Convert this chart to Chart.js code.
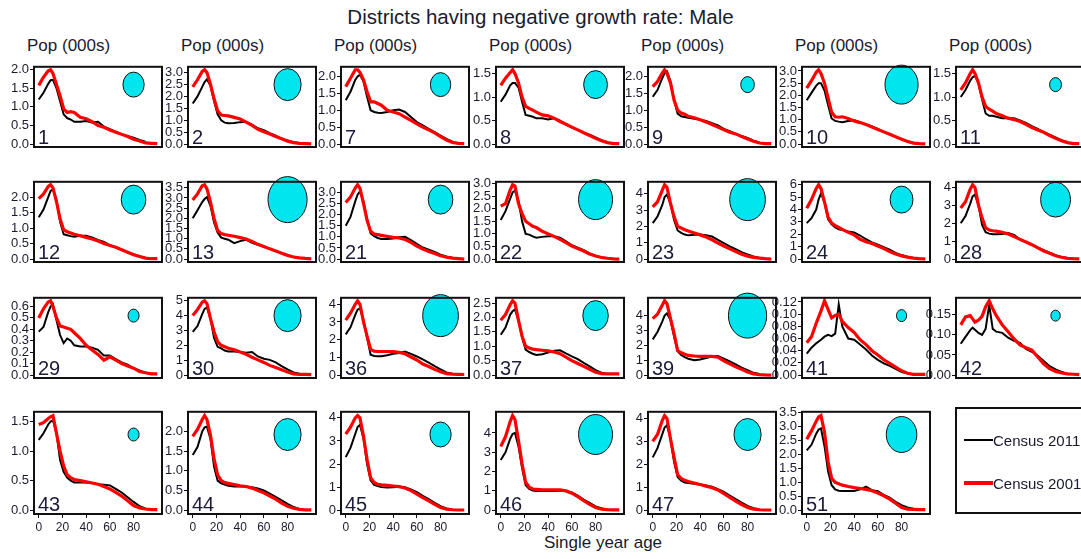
<!DOCTYPE html>
<html>
<head>
<meta charset="utf-8">
<script src="https://cdn.jsdelivr.net/npm/chart.js@4.4.1/dist/chart.umd.min.js"></script>
<style>
  html, body { margin: 0; padding: 0; background: #fff; width: 1081px; height: 559px; overflow: hidden;
    font-family: "Liberation Sans", Arial, sans-serif; color: #1a1a2e; }
  .txt { position: absolute; white-space: nowrap; line-height: 1; }
  canvas.panel { position: absolute; }
  #key { position: absolute; left: 955px; top: 407px; width: 140px; height: 107px; box-sizing: border-box;
    border: 2px solid #111; background: transparent; }
  #key .ln { position: absolute; left: 7px; width: 29px; }
  #key .lab { position: absolute; left: 36px; font-size: 15px; line-height: 1; white-space: nowrap; color: #1a1a2e; }
</style>
</head>
<body>
<div class="txt" style="left:0;width:1081px;text-align:center;top:7px;font-size:20.5px;">Districts having negative growth rate: Male</div>
<div class="txt" style="left:448px;width:310px;text-align:center;top:534px;font-size:17px;">Single year age</div>
<div id="heads"></div>
<div id="panels"></div>
<div id="key">
  <div class="ln" style="top:30px;height:2px;background:#000;"></div>
  <div class="lab" style="top:24px;">Census 2011</div>
  <div class="ln" style="top:72px;height:4px;background:#f00;"></div>
  <div class="lab" style="top:67px;">Census 2001</div>
</div>
<script>
// Single-year age grid shared by every district panel (population in thousands)
const ages = [0,4,8,10,12,15,18,21,24,27,30,35,40,45,50,55,60,65,70,75,80,85,90,95,100];
const xTicks = [0,20,40,60,80];

// District codes in panel order (row by row)
const districts = [1,2,7,8,9,10,11, 12,13,21,22,23,24,28, 29,30,36,37,39,41,42, 43,44,45,46,47,51];
// y-axis tick spacing and highest labelled tick per district
const tickStep = [0.5,0.5,0.5,0.5,0.5,0.5,0.5, 0.5,0.5,0.5,0.5,1,1,1, 0.1,1,1,0.5,1,0.02,0.05, 0.5,0.5,1,1,1,0.5];
const tickTop  = [2.0,3.0,2.0,1.5,2.0,3.0,1.5, 2.0,3.5,3.0,3.0,4,6,4, 0.6,5,4,2.5,4,0.12,0.15, 1.5,2.0,4,4,4,3.5];
// size of the marker circle (decline magnitude) per district
const bubbleSize = [12.5,16,12,14,8,19.5,7, 14.5,23,14.5,20,21,13.5,17.5, 6.5,16,21,15,22.5,6,5.5, 6.5,16,12.5,20,16,18];

// Census 2011, males
const m2011_1  = [1.2,1.38,1.62,1.72,1.73,1.5,1.15,0.8,0.7,0.66,0.6,0.6,0.62,0.58,0.6,0.47,0.4,0.33,0.26,0.22,0.17,0.11,0.06,null,null];
const m2011_2  = [1.7,2.0,2.4,2.6,2.72,2.45,1.8,1.25,1.0,0.9,0.87,0.88,0.92,0.94,0.82,0.66,0.58,0.46,0.35,0.22,0.15,0.08,0.04,null,null];
const m2011_7  = [1.3,1.55,1.9,2.0,2.05,1.85,1.4,1.0,0.95,0.93,0.92,0.95,1.0,1.02,0.95,0.8,0.65,0.55,0.45,0.35,0.25,0.15,0.07,null,null];
const m2011_8  = [0.9,1.05,1.25,1.3,1.3,1.2,0.9,0.62,0.6,0.58,0.55,0.55,0.52,0.55,0.5,0.42,0.35,0.3,0.24,0.2,0.14,0.08,0.04,null,null];
const m2011_9  = [1.4,1.6,1.95,2.1,2.15,1.85,1.3,0.9,0.82,0.8,0.78,0.75,0.72,0.68,0.62,0.55,0.45,0.38,0.3,0.24,0.18,0.1,0.05,null,null];
const m2011_10 = [1.8,2.1,2.4,2.5,2.5,2.2,1.6,1.05,0.95,0.92,0.9,0.95,0.98,0.9,0.8,0.72,0.62,0.5,0.4,0.3,0.2,0.12,0.05,null,null];
const m2011_11 = [1.0,1.15,1.35,1.42,1.45,1.3,0.95,0.65,0.6,0.6,0.58,0.55,0.55,0.55,0.5,0.45,0.38,0.32,0.25,0.2,0.14,0.08,0.04,null,null];
const m2011_12 = [1.35,1.6,2.0,2.2,2.25,1.9,1.2,0.8,0.77,0.74,0.72,0.75,0.75,0.7,0.62,0.55,0.45,0.38,0.3,0.22,0.16,0.09,0.04,null,null];
const m2011_13 = [2.0,2.4,2.8,2.95,3.05,2.6,1.8,1.3,1.05,1.0,0.95,0.78,0.88,0.95,0.8,0.7,0.6,0.5,0.38,0.28,0.18,0.1,0.05,null,null];
const m2011_21 = [1.5,1.9,2.6,2.9,3.05,2.6,1.8,1.15,1.03,0.95,0.9,0.9,0.93,0.98,1.0,0.85,0.68,0.52,0.42,0.32,0.2,0.12,0.06,null,null];
const m2011_22 = [1.55,1.9,2.4,2.65,2.72,2.3,1.5,1.0,0.97,0.9,0.85,0.88,0.9,0.9,0.85,0.7,0.55,0.45,0.35,0.22,0.12,0.07,0.03,null,null];
const m2011_23 = [2.2,2.6,3.3,3.8,3.95,3.4,2.4,1.75,1.6,1.5,1.45,1.48,1.5,1.46,1.38,1.18,0.98,0.78,0.6,0.42,0.28,0.16,0.08,null,null];
const m2011_24 = [2.9,3.3,4.0,4.8,5.3,4.6,3.2,2.8,2.55,2.4,2.35,2.22,2.15,1.9,1.6,1.35,1.15,0.95,0.75,0.5,0.32,0.18,0.09,null,null];
const m2011_28 = [2.0,2.4,3.1,3.5,3.6,3.0,1.9,1.5,1.42,1.39,1.38,1.4,1.45,1.35,1.1,0.95,0.82,0.65,0.5,0.35,0.22,0.12,0.06,null,null];
const m2011_29 = [0.38,0.42,0.55,0.6,0.62,0.48,0.35,0.28,0.32,0.3,0.26,0.25,0.25,0.24,0.22,0.17,0.17,0.14,0.11,0.09,0.06,0.04,0.02,null,null];
const m2011_30 = [2.9,3.3,4.1,4.45,4.55,3.8,2.5,1.9,1.8,1.65,1.58,1.58,1.55,1.5,1.55,1.25,1.1,1.02,0.85,0.6,0.38,0.18,0.08,null,null];
const m2011_36 = [2.3,2.7,3.4,3.7,3.78,3.1,2.1,1.15,1.08,1.06,1.06,1.12,1.2,1.25,1.33,1.2,1.05,0.88,0.7,0.5,0.32,0.15,0.07,null,null];
const m2011_37 = [1.4,1.65,2.1,2.22,2.28,1.9,1.3,0.88,0.8,0.74,0.7,0.72,0.78,0.84,0.86,0.75,0.65,0.55,0.42,0.3,0.17,0.08,0.04,null,null];
const m2011_39 = [2.4,2.9,3.6,4.0,4.15,3.7,2.6,1.6,1.35,1.2,1.1,1.0,1.05,1.15,1.25,1.28,1.1,0.92,0.72,0.5,0.32,0.15,0.07,null,null];
const m2011_41 = [0.035,0.045,0.052,0.055,0.058,0.063,0.066,0.064,0.068,0.116,0.08,0.06,0.058,0.05,0.042,0.032,0.025,0.019,0.015,0.01,0.005,0.003,0.001,null,null];
const m2011_42 = [0.078,0.095,0.112,0.118,0.113,0.105,0.1,0.115,0.175,0.115,0.108,0.105,0.093,0.085,0.08,0.065,0.058,0.048,0.035,0.022,0.014,0.008,0.003,null,null];
const m2011_43 = [1.19,1.3,1.45,1.5,1.52,1.3,0.85,0.65,0.55,0.5,0.47,0.47,0.47,0.46,0.44,0.43,0.42,0.36,0.3,0.22,0.14,0.07,0.03,null,null];
const m2011_44 = [1.4,1.6,2.0,2.1,2.12,1.8,1.1,0.75,0.68,0.65,0.62,0.6,0.6,0.6,0.58,0.55,0.5,0.42,0.34,0.25,0.16,0.08,0.03,null,null];
const m2011_45 = [2.3,2.7,3.3,3.6,3.7,3.1,2.0,1.3,1.1,1.05,1.0,0.98,1.0,1.02,1.0,0.9,0.78,0.62,0.48,0.32,0.18,0.08,0.03,null,null];
const m2011_46 = [2.6,3.0,3.7,3.95,4.0,3.3,2.2,1.3,1.1,1.02,1.0,1.0,1.0,1.0,1.02,1.0,0.92,0.75,0.55,0.38,0.2,0.1,0.04,null,null];
const m2011_47 = [2.3,2.7,3.3,3.6,3.7,3.1,2.1,1.45,1.28,1.2,1.18,1.15,1.12,1.08,1.02,0.92,0.8,0.64,0.48,0.33,0.19,0.09,0.04,null,null];
const m2011_51 = [2.15,2.35,2.75,2.9,2.94,2.3,1.4,0.9,0.75,0.7,0.69,0.69,0.69,0.75,0.85,0.72,0.68,0.55,0.45,0.3,0.18,0.1,0.05,null,null];

// Census 2001, males
const m2001_1  = [1.58,1.8,1.97,2.0,1.9,1.6,1.3,0.95,0.85,0.87,0.85,0.72,0.68,0.6,0.5,0.45,0.38,0.32,0.26,0.2,0.13,0.08,0.03,0.02,0.01];
const m2001_2  = [2.4,2.7,3.05,3.12,3.0,2.5,1.9,1.4,1.22,1.2,1.18,1.12,1.05,0.92,0.78,0.62,0.52,0.42,0.32,0.22,0.12,0.06,0.03,0.02,0.01];
const m2001_7  = [1.7,1.95,2.2,2.2,2.12,1.9,1.55,1.25,1.25,1.2,1.15,1.0,0.95,0.9,0.8,0.7,0.6,0.5,0.42,0.33,0.22,0.12,0.05,0.02,0.01];
const m2001_8  = [1.25,1.4,1.52,1.58,1.5,1.3,1.0,0.8,0.76,0.72,0.68,0.62,0.6,0.55,0.48,0.42,0.36,0.3,0.24,0.18,0.12,0.07,0.03,0.01,0.01];
const m2001_9  = [1.7,1.85,2.1,2.2,2.1,1.8,1.3,1.0,0.92,0.88,0.82,0.78,0.72,0.65,0.58,0.5,0.42,0.35,0.3,0.22,0.15,0.08,0.03,0.01,0.01];
const m2001_10 = [2.3,2.6,2.95,3.05,2.9,2.5,1.9,1.3,1.12,1.1,1.12,1.05,0.95,0.88,0.8,0.7,0.6,0.5,0.4,0.3,0.2,0.1,0.04,0.02,0.01];
const m2001_11 = [1.15,1.3,1.5,1.58,1.5,1.3,1.0,0.8,0.74,0.7,0.65,0.6,0.55,0.52,0.48,0.42,0.35,0.3,0.25,0.18,0.12,0.07,0.03,0.01,0.01];
const m2001_12 = [1.95,2.1,2.35,2.4,2.3,1.85,1.3,0.95,0.88,0.84,0.8,0.75,0.7,0.65,0.58,0.5,0.44,0.38,0.3,0.22,0.14,0.08,0.03,0.01,0.01];
const m2001_13 = [2.9,3.2,3.6,3.65,3.45,2.8,2.0,1.4,1.25,1.2,1.17,1.12,1.05,0.98,0.86,0.72,0.62,0.5,0.4,0.28,0.18,0.1,0.06,0.03,0.01];
const m2001_21 = [2.55,2.8,3.2,3.35,3.2,2.5,1.75,1.25,1.13,1.1,1.07,1.02,0.98,0.95,0.88,0.75,0.58,0.45,0.34,0.25,0.15,0.08,0.04,0.02,0.0];
const m2001_22 = [2.1,2.2,2.75,2.95,2.9,2.2,1.8,1.5,1.4,1.3,1.25,1.1,1.0,0.9,0.78,0.65,0.52,0.42,0.32,0.2,0.12,0.06,0.03,0.01,0.0];
const m2001_23 = [3.2,3.5,4.2,4.55,4.4,3.4,2.6,2.0,1.9,1.8,1.72,1.6,1.48,1.35,1.18,0.98,0.8,0.62,0.46,0.3,0.18,0.1,0.05,0.02,0.0];
const m2001_24 = [4.1,4.8,5.7,6.0,5.7,4.6,3.4,2.9,2.7,2.55,2.4,2.15,1.95,1.6,1.4,1.25,1.05,0.85,0.6,0.4,0.25,0.15,0.07,0.03,0.01];
const m2001_28 = [2.85,3.2,3.9,4.15,4.0,3.0,2.3,1.75,1.62,1.58,1.56,1.5,1.4,1.25,1.1,0.95,0.8,0.62,0.45,0.32,0.18,0.1,0.04,0.02,0.01];
const m2001_29 = [0.5,0.58,0.64,0.65,0.6,0.5,0.43,0.42,0.41,0.4,0.37,0.32,0.26,0.22,0.18,0.13,0.16,0.13,0.1,0.08,0.06,0.03,0.02,0.01,0.01];
const m2001_30 = [4.0,4.4,4.9,5.0,4.8,3.8,2.9,2.25,2.0,1.9,1.8,1.7,1.55,1.4,1.2,1.02,0.85,0.65,0.5,0.35,0.2,0.08,0.05,0.04,0.03];
const m2001_36 = [3.1,3.5,4.0,4.2,4.0,3.0,2.2,1.45,1.35,1.33,1.33,1.33,1.32,1.28,1.2,1.02,0.85,0.62,0.48,0.32,0.18,0.08,0.05,0.04,0.03];
const m2001_37 = [1.9,2.1,2.45,2.58,2.5,1.9,1.35,1.0,0.94,0.9,0.88,0.86,0.84,0.8,0.74,0.62,0.5,0.4,0.3,0.2,0.1,0.05,0.04,0.04,0.04];
const m2001_39 = [3.8,4.1,4.7,5.0,4.8,3.8,2.8,1.65,1.5,1.4,1.32,1.28,1.25,1.25,1.25,1.2,0.95,0.75,0.55,0.38,0.2,0.08,0.03,0.01,0.0];
const m2001_41 = [0.053,0.063,0.085,0.095,0.105,0.122,0.108,0.094,0.098,0.1,0.088,0.078,0.07,0.058,0.05,0.04,0.033,0.025,0.019,0.013,0.007,0.003,0.001,0.001,0.001];
const m2001_42 = [0.125,0.145,0.148,0.14,0.132,0.137,0.146,0.17,0.185,0.165,0.148,0.125,0.108,0.09,0.075,0.068,0.062,0.045,0.028,0.016,0.009,0.005,0.003,0.002,0.001];
const m2001_43 = [1.45,1.48,1.55,1.58,1.6,1.3,1.0,0.75,0.6,0.55,0.52,0.5,0.48,0.46,0.44,0.4,0.36,0.3,0.24,0.16,0.08,0.04,0.02,0.01,0.01];
const m2001_44 = [1.87,2.05,2.3,2.4,2.3,1.9,1.3,0.9,0.75,0.7,0.68,0.65,0.62,0.6,0.56,0.5,0.44,0.36,0.28,0.18,0.1,0.05,0.02,0.01,0.01];
const m2001_45 = [3.3,3.6,4.0,4.1,4.0,3.2,2.2,1.4,1.2,1.12,1.1,1.08,1.05,1.02,0.96,0.85,0.7,0.55,0.4,0.25,0.12,0.05,0.02,0.01,0.01];
const m2001_46 = [3.3,3.8,4.6,4.9,4.7,3.6,2.4,1.45,1.2,1.1,1.08,1.05,1.05,1.05,1.05,1.0,0.88,0.7,0.5,0.3,0.14,0.05,0.03,0.02,0.02];
const m2001_47 = [3.0,3.3,3.9,4.12,4.0,3.1,2.3,1.55,1.38,1.3,1.25,1.18,1.12,1.05,0.98,0.88,0.72,0.56,0.4,0.25,0.12,0.05,0.02,0.01,0.01];
const m2001_51 = [2.55,2.85,3.2,3.35,3.4,2.8,1.75,1.15,1.0,0.95,0.9,0.85,0.81,0.78,0.75,0.7,0.62,0.52,0.4,0.25,0.1,0.04,0.03,0.02,0.02];

const census2011 = [m2011_1,m2011_2,m2011_7,m2011_8,m2011_9,m2011_10,m2011_11,
  m2011_12,m2011_13,m2011_21,m2011_22,m2011_23,m2011_24,m2011_28,
  m2011_29,m2011_30,m2011_36,m2011_37,m2011_39,m2011_41,m2011_42,
  m2011_43,m2011_44,m2011_45,m2011_46,m2011_47,m2011_51];
const census2001 = [m2001_1,m2001_2,m2001_7,m2001_8,m2001_9,m2001_10,m2001_11,
  m2001_12,m2001_13,m2001_21,m2001_22,m2001_23,m2001_24,m2001_28,
  m2001_29,m2001_30,m2001_36,m2001_37,m2001_39,m2001_41,m2001_42,
  m2001_43,m2001_44,m2001_45,m2001_46,m2001_47,m2001_51];

// ---- panel grid geometry ----
const colLeft = [34, 188, 341, 496, 648, 802, 956];
const rowTop  = [62, 177, 293, 407];
const BOX_W = 128, BOX_H = 107, AXIS_W = 40, PAD = 4, XAXIS_H = 22;
const FONT = '"Liberation Sans", Arial, sans-serif';
const INK = '#1a1a2e';

// column headings
const heads = document.getElementById('heads');
colLeft.forEach(x => {
  const d = document.createElement('div');
  d.className = 'txt';
  d.style.cssText = `left:${x - 7}px;top:37px;font-size:17px;`;
  d.textContent = 'Pop (000s)';
  heads.appendChild(d);
});

// frame, district number and decline circle drawn on top of each panel
const panelDecor = {
  id: 'panelDecor',
  afterDatasetsDraw(chart, args, opts) {
    const { ctx, chartArea: a, scales } = chart;
    ctx.save();
    const cx = scales.x.getPixelForValue(opts.circleAge);
    const cy = scales.y.getPixelForValue(opts.circleLevel);
    ctx.beginPath();
    ctx.ellipse(cx, cy, opts.radius * 0.85, opts.radius, 0, 0, Math.PI * 2);
    ctx.fillStyle = '#00E5EE';
    ctx.fill();
    ctx.lineWidth = 1;
    ctx.strokeStyle = '#111';
    ctx.stroke();
    ctx.font = '20px ' + FONT;
    ctx.fillStyle = '#1b1b3a';
    ctx.textBaseline = 'alphabetic';
    ctx.textAlign = 'left';
    ctx.fillText(opts.label, a.left + 4, a.bottom - 3);
    ctx.lineWidth = 2;
    ctx.strokeStyle = '#111';
    ctx.strokeRect(a.left, a.top, a.right - a.left, a.bottom - a.top);
    ctx.restore();
  }
};

const host = document.getElementById('panels');
districts.forEach((code, i) => {
  const r = Math.floor(i / 7), c = i % 7;
  const bottomRow = (r === 3);
  const cv = document.createElement('canvas');
  cv.className = 'panel';
  const w = AXIS_W + BOX_W + PAD;
  const h = PAD + BOX_H + (bottomRow ? XAXIS_H : PAD);
  cv.width = w; cv.height = h;
  cv.style.left = (colLeft[c] - AXIS_W) + 'px';
  cv.style.top = (rowTop[r] - PAD) + 'px';
  host.appendChild(cv);

  const a11 = census2011[i], a01 = census2001[i];
  const peak = Math.max(...a11.filter(v => v !== null), ...a01);
  const step = tickStep[i], top = tickTop[i];
  const dec = step >= 1 ? 0 : (Math.abs(step * 10 - Math.round(step * 10)) < 1e-9 ? 1 : 2);

  new Chart(cv, {
    type: 'line',
    data: {
      labels: ages,
      datasets: [
        { label: 'Census 2001', data: ages.map((x, k) => ({ x, y: a01[k] })),
          borderColor: '#ff0000', borderWidth: 3.2, pointRadius: 0,
          tension: 0, fill: false },
        { label: 'Census 2011', data: ages.map((x, k) => ({ x, y: a11[k] })),
          borderColor: '#000000', borderWidth: 2, pointRadius: 0, tension: 0, fill: false, spanGaps: false }
      ]
    },
    options: {
      responsive: false, animation: false, devicePixelRatio: 1,
      layout: { padding: { top: PAD, right: PAD, left: 0, bottom: bottomRow ? 0 : PAD } },
      plugins: {
        legend: { display: false }, tooltip: { enabled: false },
        panelDecor: { label: String(code), radius: bubbleSize[i], circleAge: 80, circleLevel: 0.8 * peak }
      },
      scales: {
        x: {
          type: 'linear', min: -4, max: 104, display: bottomRow,
          afterFit(s) { s.height = XAXIS_H; },
          afterBuildTicks(s) { s.ticks = xTicks.map(v => ({ value: v })); },
          ticks: { autoSkip: false, maxRotation: 0, padding: 2, color: INK,
                   font: { family: FONT, size: 12 }, callback: v => String(v) },
          grid: { drawOnChartArea: false, drawTicks: true, tickLength: 4, color: '#111', lineWidth: 1 },
          border: { display: false }
        },
        y: {
          type: 'linear', min: -0.04 * peak, max: 1.04 * peak,
          afterFit(s) { s.width = AXIS_W; },
          afterBuildTicks(s) {
            const t = [];
            for (let k = 0; k * step <= top + 1e-9; k++) t.push({ value: +(k * step).toFixed(4) });
            s.ticks = t;
          },
          ticks: { autoSkip: false, padding: 1, color: INK, font: { family: FONT, size: 13 },
                   callback: v => Number(v).toFixed(dec) },
          grid: { drawOnChartArea: false, drawTicks: true, tickLength: 4, color: '#111', lineWidth: 1 },
          border: { display: false }
        }
      }
    },
    plugins: [panelDecor]
  });
});
</script>
</body>
</html>
